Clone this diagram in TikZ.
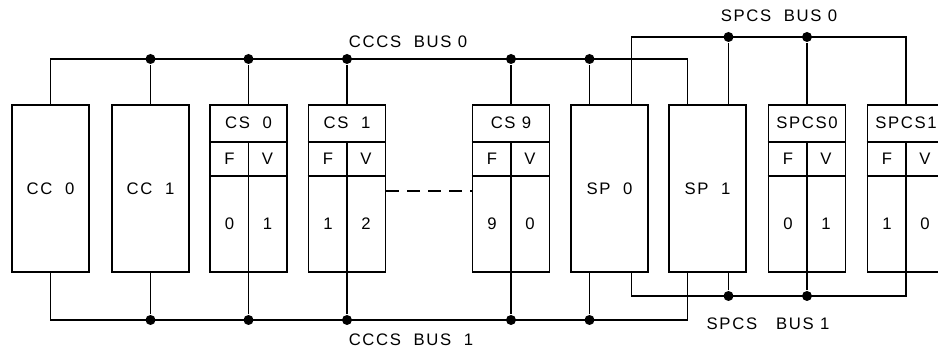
\documentclass[tikz,border=0pt]{standalone}
\usepackage{fontspec}
\setmainfont[LetterSpace=10]{Liberation Sans}
\usetikzlibrary{calc}

\tikzset{
  unit/.style={draw, minimum width=1.54cm, minimum height=3.34cm, inner sep=0pt},
  junction/.style={circle, fill, inner sep=0pt, minimum size=0.2cm},
  gap/.style={dash pattern=on 0.26cm off 0.16cm},
}

\begin{document}
\begin{tikzpicture}[x=0.02cm, y=-0.02cm, line width=1pt, font=\fontsize{9.5}{11}\selectfont]
  \useasboundingbox (0,0) rectangle (938,350);
  \clip (0,0) rectangle (938,350);
  % plain units
  \node[unit] (cc0) at (50.5,188.5) {CC~~0};
  \node[unit] (cc1) at (150.5,188.5) {CC~~1};
  \node[unit] (sp0) at (609.5,188.5) {SP~~0};
  \node[unit] (sp1) at (707.5,188.5) {SP~~1};
  % stores with F/V halves
  \foreach \name/\x/\title/\f/\v in {cs0/248.5/CS~~0/0/1, cs1/347/CS~~1/1/2, cs9/511/CS~9/9/0,
      spcs0/807/SPCS0/0/1, spcs1/906/SPCS1/1/0} {
    \node[unit] (\name) at (\x,188.5) {};
    \draw ($(\name.north west)+(0,38)$) -- ($(\name.north east)+(0,38)$);
    \draw ($(\name.north west)+(0,72)$) -- ($(\name.north east)+(0,72)$);
    \draw ($(\name.north)+(0,38)$) -- (\name.south);
    \node (\name-t) at ($(\name.north)+(0,19)$) {\title};
    \node (\name-f) at ($(\name.north)+(-19,55)$) {F};
    \node (\name-v) at ($(\name.north)+(19,55)$) {V};
    \node (\name-a) at ($(\name.north)+(-19,120)$) {\f};
    \node (\name-b) at ($(\name.north)+(19,120)$) {\v};
  }
  % bus levels and SP taps
  \coordinate (cctop) at (0,59);
  \coordinate (ccbot) at (0,320);
  \coordinate (sptop) at (0,37);
  \coordinate (spbot) at (0,296);
  \coordinate (sp0cn) at ($(sp0.north)+(-20,0)$);
  \coordinate (sp0sn) at ($(sp0.north)+(22,0)$);
  \coordinate (sp0cs) at ($(sp0.south)+(-20,0)$);
  \coordinate (sp0ss) at ($(sp0.south)+(22,0)$);
  \coordinate (sp1cn) at ($(sp1.north)+(-20,0)$);
  \coordinate (sp1sn) at ($(sp1.north)+(21,0)$);
  \coordinate (sp1cs) at ($(sp1.south)+(-20,0)$);
  \coordinate (sp1ss) at ($(sp1.south)+(21,0)$);
  % CCCS buses
  \draw (cc0.north) |- (sp1cn |- cctop) -- (sp1cn);
  \draw (cc0.south) |- (sp1cs |- ccbot) -- (sp1cs);
  \foreach \u [count=\i] in {cc1.north, cs0.north, cs1.north, cs9.north, sp0cn} {
    \node[junction] (ct\i) at (\u |- cctop) {};
    \draw (ct\i) -- (\u);
  }
  \foreach \u [count=\i] in {cc1.south, cs0.south, cs1.south, cs9.south, sp0cs} {
    \node[junction] (cb\i) at (\u |- ccbot) {};
    \draw (cb\i) -- (\u);
  }
  % SPCS buses
  \draw (sp0sn) |- (spcs1.north |- sptop) -- (spcs1.north);
  \draw (sp0ss) |- (spcs1.south |- spbot) -- (spcs1.south);
  \foreach \u [count=\i] in {sp1sn, spcs0.north} {
    \node[junction] (st\i) at (\u |- sptop) {};
    \draw (st\i) -- (\u);
  }
  \foreach \u [count=\i] in {sp1ss, spcs0.south} {
    \node[junction] (sb\i) at (\u |- spbot) {};
    \draw (sb\i) -- (\u);
  }
  % omitted stores
  \draw[gap] ($(cs1.east)+(0,2.5)$) -- ($(cs9.west)+(0,2.5)$);
  % bus names
  \node (lcc0) at (408,42) {CCCS~~BUS~0};
  \node (lcc1) at (411,340) {CCCS~~BUS~~1};
  \node (lsp0) at (779,16) {SPCS~~BUS~0};
  \node (lsp1) at (768,324) {SPCS~~~BUS~1};
\end{tikzpicture}
\end{document}
